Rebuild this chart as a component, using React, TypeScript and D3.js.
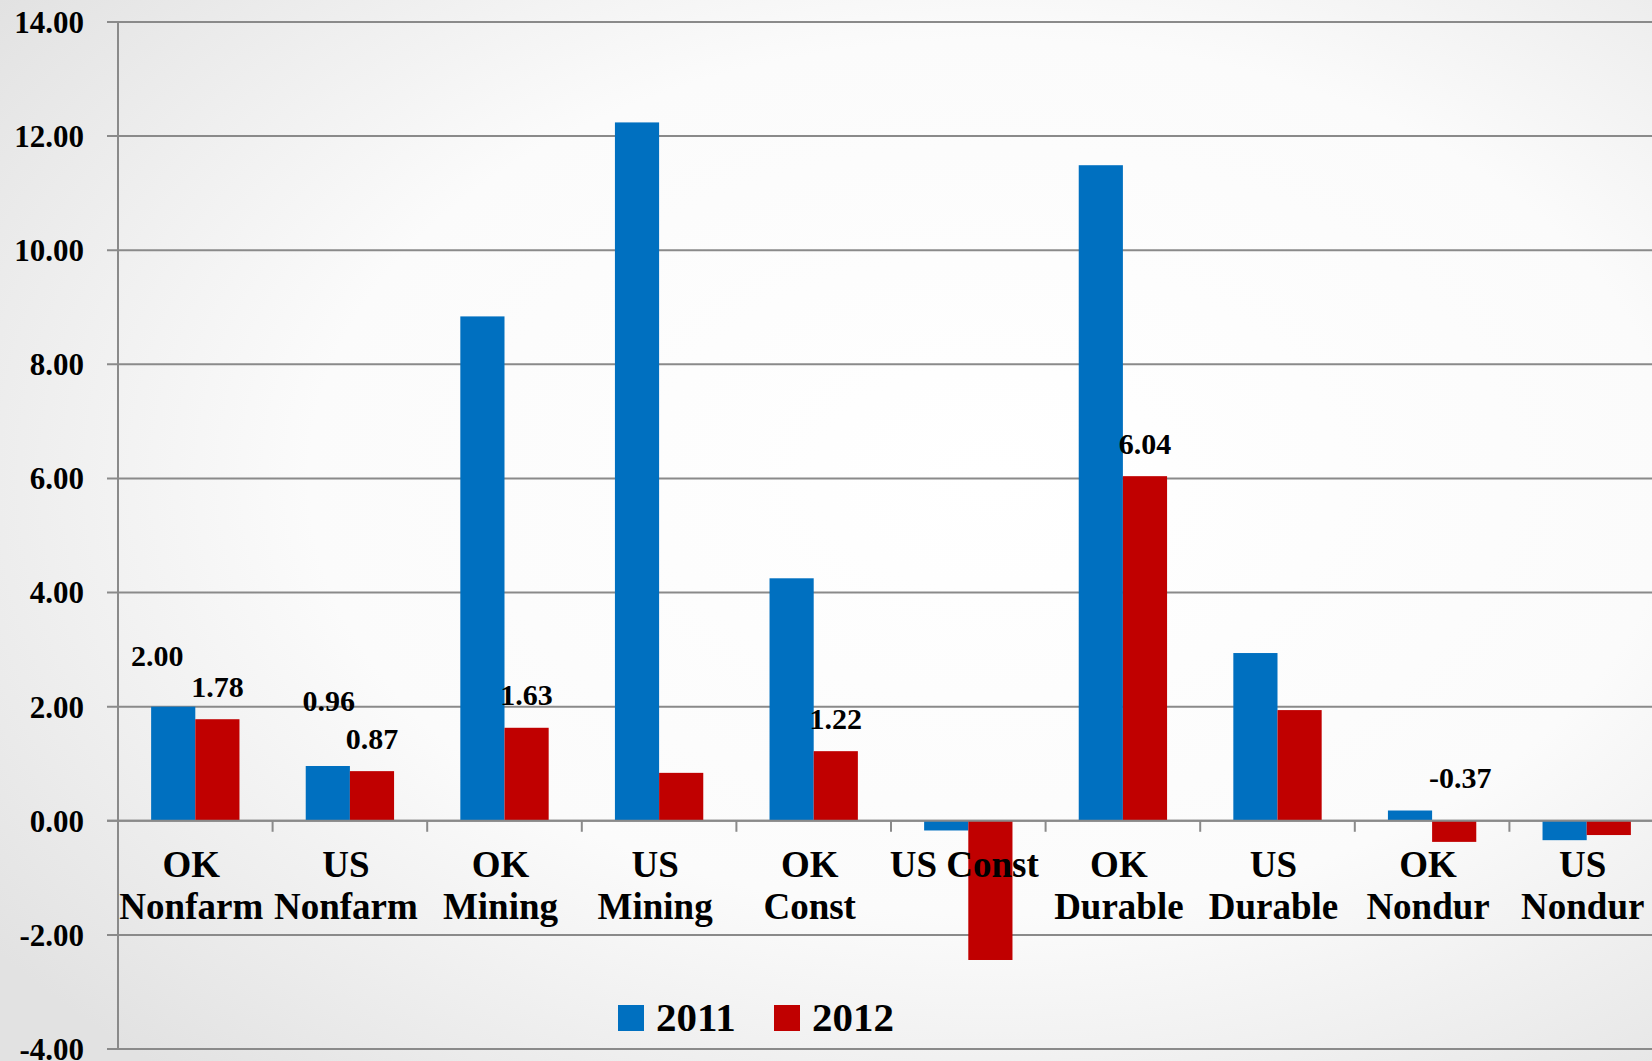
import React from "react";
import * as d3 from "d3";

const categories = [
  "OK Nonfarm", "US Nonfarm", "OK Mining", "US Mining", "OK Const",
  "US Const", "OK Durable", "US Durable", "OK Nondur", "US Nondur",
];
const categoryLines = [
  ["OK", "Nonfarm"], ["US", "Nonfarm"], ["OK", "Mining"], ["US", "Mining"], ["OK", "Const"],
  ["US Const"], ["OK", "Durable"], ["US", "Durable"], ["OK", "Nondur"], ["US", "Nondur"],
];
const seriesNames = ["2011", "2012"];
const values2011 = [2.0, 0.96, 8.84, 12.24, 4.25, -0.17, 11.49, 2.94, 0.18, -0.34];
const values2012 = [1.78, 0.87, 1.63, 0.84, 1.22, -2.44, 6.04, 1.94, -0.37, -0.25];
const yTicks = [-4, -2, 0, 2, 4, 6, 8, 10, 12, 14];

// data labels shown on the chart: [series index, category index]
const shownLabels: [number, number][] = [
  [0, 0], [1, 0], [0, 1], [1, 1], [1, 2], [1, 4], [1, 6], [1, 8],
];
// label placement nudges (layout only)
const labelNudges: Record<string, { dx: number; dy: number; fromZero?: boolean }> = {
  "0-0": { dx: -16, dy: -51 },
  "0-1": { dx: 1, dy: -66 },
  "1-8": { dx: 6, dy: -43, fromZero: true },
};

const colors = ["#0070C0", "#C00000"];
const W = 1652;
const H = 1061;
const FONT = "'Liberation Serif', 'Times New Roman', serif";

const fmt2 = d3.format(".2f");
const fmt = (v: number) => fmt2(v).replace("\u2212", "-");

export default function App() {
  const y = d3.scaleLinear().domain([-4, 14]).range([1049, 22]);
  const x = d3.scaleBand<string>().domain(categories).range([118, 1664]).padding(0);
  const x1 = d3
    .scaleBand<string>()
    .domain(seriesNames)
    .range([0, x.bandwidth()])
    .paddingInner(0)
    .paddingOuter(0.75);
  const series = [values2011, values2012];
  const y0 = y(0);

  return (
    <svg
      width={W}
      height={H}
      style={{ position: "absolute", left: 0, top: 0, display: "block" }}
      fontFamily={FONT}
    >
      <defs>
        <radialGradient id="bg" cx="0.6" cy="0.45" r="0.75">
          <stop offset="0" stopColor="#ffffff" />
          <stop offset="0.55" stopColor="#fbfbfb" />
          <stop offset="1" stopColor="#e2e2e2" />
        </radialGradient>
      </defs>
      <rect x={0} y={0} width={W} height={H} fill="url(#bg)" />

      {/* gridlines */}
      {yTicks.map((t) => (
        <line
          key={"g" + t}
          x1={107}
          x2={W}
          y1={y(t)}
          y2={y(t)}
          stroke="#8a8a8a"
          strokeWidth={2}
        />
      ))}
      {/* y axis */}
      <line x1={118} x2={118} y1={y(14)} y2={y(-4)} stroke="#8a8a8a" strokeWidth={2} />
      {/* y tick labels */}
      {yTicks.map((t) => (
        <text
          key={"t" + t}
          x={84}
          y={y(t)}
          dy="0.35em"
          textAnchor="end"
          fontSize={31}
          fontWeight="bold"
          fill="#000"
        >
          {fmt(t)}
        </text>
      ))}

      {/* bars */}
      {series.map((vals, si) =>
        vals.map((v, ci) => {
          const bx = (x(categories[ci]) as number) + (x1(seriesNames[si]) as number);
          const top = Math.min(y(v), y0);
          const h = Math.abs(y(v) - y0);
          return (
            <rect
              key={`b${si}-${ci}`}
              x={bx}
              y={top}
              width={x1.bandwidth()}
              height={h}
              fill={colors[si]}
            />
          );
        })
      )}

      {/* x axis ticks */}
      {categories.map((c, i) =>
        i === 0 ? null : (
          <line
            key={"xt" + c}
            x1={x(c) as number}
            x2={x(c) as number}
            y1={y0}
            y2={y0 + 11}
            stroke="#8a8a8a"
            strokeWidth={2}
          />
        )
      )}
      <line x1={107} x2={W} y1={y0} y2={y0} stroke="#8a8a8a" strokeWidth={2} />

      {/* category labels */}
      {categories.map((c, i) => {
        const cx = (x(c) as number) + x.bandwidth() / 2 - 4;
        return (
          <text
            key={"cl" + c}
            x={cx}
            y={877}
            textAnchor="middle"
            fontSize={37}
            fontWeight="bold"
            fill="#000"
          >
            {categoryLines[i].map((ln, li) => (
              <tspan key={li} x={cx} dy={li === 0 ? 0 : 42}>
                {ln}
              </tspan>
            ))}
          </text>
        );
      })}

      {/* data labels */}
      {shownLabels.map(([si, ci]) => {
        const v = series[si][ci];
        const key = `${si}-${ci}`;
        const n = labelNudges[key] || { dx: 0, dy: -33 };
        const bx =
          (x(categories[ci]) as number) + (x1(seriesNames[si]) as number) + x1.bandwidth() / 2;
        const base = n.fromZero ? y0 : y(v);
        return (
          <text
            key={"dl" + key}
            x={bx + n.dx}
            y={base + n.dy}
            dy="0.35em"
            textAnchor="middle"
            fontSize={30}
            fontWeight="bold"
            fill="#000"
          >
            {fmt(v)}
          </text>
        );
      })}

      {/* legend */}
      {seriesNames.map((s, i) => {
        const lx = i === 0 ? 618 : 774;
        return (
          <g key={"lg" + s}>
            <rect x={lx} y={1005} width={26} height={26} fill={colors[i]} />
            <text x={lx + 38} y={1031} fontSize={41} fontWeight="bold" fill="#000">
              {s}
            </text>
          </g>
        );
      })}
    </svg>
  );
}
